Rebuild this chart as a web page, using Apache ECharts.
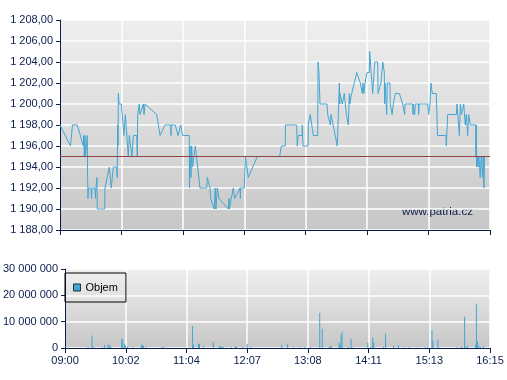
<!DOCTYPE html>
<html><head><meta charset="utf-8">
<script src="https://cdn.jsdelivr.net/npm/echarts@6/dist/echarts.min.js"></script>
<style>html,body{margin:0;padding:0;background:#fff}#c{width:507px;height:380px}</style>
</head><body><div id="c"></div>
<script>
// Minutes after 09:00
const priceTimes = [0,10.6,12.6,17.5,23.6,24,24.6,25.3,25.8,27.3,27.6,27.9,28.3,28.8,31.4,31.9,32.4,35.4,35.9,36.4,37.4,37.7,40.5,45.2,45.5,47.5,49.9,51.9,53.9,57.3,57.9,58.3,58.7,59,59.7,62,64.7,66.1,69.1,70.1,71.8,72.8,74.2,77.6,78.2,78.6,80.2,80.9,84.3,85,86,97.8,101.2,106.2,112,112.3,112.6,116.6,119.4,122.1,124.1,130.8,131,131.5,132.5,133.2,134,136.9,141.6,148.4,149,151.7,152.4,156,157.1,157.8,159.1,160.8,170.3,171,171.3,175.3,176.7,182.1,182.4,182.8,186.4,187.5,190.5,199.6,222.2,223.9,227.9,228.1,239.4,240,241,244.8,245.1,245.8,250.9,251.2,253.2,256.2,260.7,261,262,263,270.1,270.8,272.1,273.5,274.2,280.5,281.6,282.6,283,283.3,285,285.6,287.6,289.7,291.1,291.7,292.7,293.1,295.1,300.2,303.8,305.8,306.5,307.5,308.5,309.9,310.6,312.9,313.3,314.9,316.3,318.4,321.4,321.7,323.7,324.7,326.5,328.1,328.3,328.8,330.5,331.1,333.8,334.1,335.9,337.2,339.2,343.3,346.7,348.4,348.7,349,356.8,357.1,357.4,358.4,358.8,359.4,362.5,362.8,363.4,371.9,373,374.3,375.3,376.6,380.7,381.9,390.5,390.8,392.2,401,401.6,404,405,406,407.7,408.4,410,411,412.4,413.4,415.1,420.5,420.8,421.2,421.5,422.1,422.8,423.8,425.1,426.1,427.5,428.2,428.9,429.4,435];
const priceValues = [1198,1196,1198,1198,1196,1197,1195,1197,1195,1195,1197,1193,1191,1192,1192,1191,1192,1192,1191,1192,1193,1190,1190,1190,1192,1192,1194,1192,1194,1194,1193,1198,1196,1201,1200,1200,1197,1199,1195,1197,1197,1195,1197,1197,1195,1199,1200,1199,1200,1199,1200,1199,1197,1198,1198,1197,1198,1198,1197,1198,1197,1197,1192,1196,1193,1196,1194,1196,1192,1192,1193,1192,1191,1190,1192,1190,1192,1191,1190,1191,1190,1192,1191,1192,1191,1192,1192,1195,1193,1195,1195,1196,1196,1198,1198,1196,1197,1197,1198,1196,1196,1198,1199,1197,1197,1204,1203,1200,1200,1199,1199,1198,1199,1196,1199,1202,1200,1201,1201,1200,1201,1199,1199,1198,1201,1200,1201,1203,1202,1201,1202,1201,1202,1202,1203,1203,1205,1205,1201,1204,1204,1201,1201,1202,1204,1203,1200,1202,1199,1202,1202,1200,1199,1200,1201,1201,1200,1200,1199,1200,1200,1199,1200,1200,1199,1200,1200,1199,1200,1200,1199,1200,1202,1201,1201,1197,1197,1196,1199,1199,1200,1197,1200,1199,1199,1200,1198,1199,1197,1199,1198,1198,1195,1198,1194,1195,1194,1195,1193,1195,1193,1195,1192,1195,1195];
const previousClose = 1195;
const volumeTimes = [23.6,27.6,28.6,38.1,40.5,43.8,44.8,45.8,46.8,58.0,59.0,60.7,61.7,64.0,69.1,78.2,79.2,80.2,82.7,99.1,101.2,130.5,131.5,136.6,137.6,141.6,151.7,157.8,158.8,160.3,161.9,170.3,174.3,175.3,182.1,186.4,190.5,221.8,227.9,233.9,240.1,245.1,251.2,260.7,263.3,270.4,271.4,272.4,280.5,281.5,282.5,283.6,289.6,292.7,293.7,309.9,312.9,314.9,315.9,326.0,328.1,336.2,341.2,347.3,352.4,361.5,368.5,371.0,375.6,376.6,381.7,401.3,405.4,406.4,409.0,410.4,412.0,420.1,421.1,422.1,423.6,425.2,428.2];
const volumeValues = [400000,4700000,500000,400000,1200000,1200000,600000,1200000,500000,3500000,3200000,1500000,1000000,500000,300000,1000000,1300000,800000,500000,400000,400000,8400000,1200000,1600000,1600000,600000,2400000,500000,800000,500000,500000,300000,800000,400000,300000,1600000,400000,1200000,1500000,300000,300000,300000,300000,13400000,7300000,400000,400000,800000,2000000,1200000,5000000,6200000,400000,3500000,400000,2000000,400000,3900000,2200000,400000,5400000,800000,1000000,300000,300000,200000,300000,300000,6600000,2800000,3100000,300000,400000,400000,11900000,400000,800000,1000000,16800000,2700000,900000,400000,800000];
const xTickLabels = ['09:00','10:02','11:04','12:07','13:08','14:11','15:13','16:15'];
const sessionLength = 435;

const navy = '#0b1d4d';
const blue = '#44a6d2';
const xInterval = sessionLength / (xTickLabels.length - 1);
const bg = {type:'linear',x:0,y:0,x2:0,y2:1,colorStops:[{offset:0,color:'#efefef'},{offset:1,color:'#c7c7c7'}]};
function fmtNum(v, dec){
  const s = v.toFixed(dec);
  const parts = s.split('.');
  const int = parts[0].replace(/\B(?=(\d{3})+(?!\d))/g,' ');
  return dec ? int + ',' + parts[1] : int;
}
const xAxisCommon = {
  type:'value', min:0, max:sessionLength, interval:xInterval,
  axisLine:{show:true, lineStyle:{color:navy, width:1}},
  axisTick:{show:true, length:5, lineStyle:{color:navy}},
  splitLine:{show:true, lineStyle:{color:'#ffffff', width:1.5}}
};
const chart = echarts.init(document.getElementById('c'), null, {renderer:'canvas'});
chart.setOption({
  animation:false,
  backgroundColor:'#ffffff',
  textStyle:{fontFamily:'Liberation Sans, Arial, sans-serif'},
  grid:[
    {left:60, right:17, top:20, height:210, show:true, backgroundColor:bg, borderWidth:0},
    {left:60, right:17, top:269, height:79, show:true, backgroundColor:bg, borderWidth:0}
  ],
  xAxis:[
    Object.assign({gridIndex:0, axisLabel:{show:false}}, xAxisCommon),
    Object.assign({gridIndex:1, axisLabel:{show:true, color:navy, fontSize:11, margin:7, showMinLabel:true, showMaxLabel:true,
      formatter:function(v){ return xTickLabels[Math.round(v/xInterval)] || ''; }}}, xAxisCommon)
  ],
  yAxis:[
    {type:'value', gridIndex:0, min:1188, max:1208, interval:2,
      axisLine:{show:true, lineStyle:{color:navy}}, axisTick:{show:true, length:4, lineStyle:{color:navy}},
      axisLabel:{color:navy, fontSize:11, margin:7, formatter:function(v){return fmtNum(v,2);}},
      splitLine:{show:true, lineStyle:{color:'#ffffff', width:1.5}}},
    {type:'value', gridIndex:1, min:0, max:30000000, interval:10000000,
      axisLine:{show:true, lineStyle:{color:navy}}, axisTick:{show:true, length:4, lineStyle:{color:navy}},
      axisLabel:{color:navy, fontSize:11, margin:7, formatter:function(v){return fmtNum(v,0);}},
      splitLine:{show:true, lineStyle:{color:'#ffffff', width:1.5}}}
  ],
  legend:{
    data:[{name:'Objem', icon:'rect'}],
    left:65, top:273, orient:'vertical',
    padding:[9,8,9,8], itemWidth:7, itemHeight:7, itemGap:4,
    borderColor:'#000', borderWidth:1, borderRadius:0, backgroundColor:'transparent',
    textStyle:{color:'#000', fontSize:11, padding:[0,0,0,0]},
    itemStyle:{borderColor:'#12304f', borderWidth:1}
  },
  graphic:[
    {type:'text', left:402, top:206, style:{text:'www.patria.cz', fill:navy, font:'11.5px "Liberation Sans", Arial, sans-serif'}}
  ],
  series:[
    {name:'Cena', type:'line', xAxisIndex:0, yAxisIndex:0, showSymbol:false, symbol:'none',
      data: priceTimes.map((t,i)=>[t, priceValues[i]]),
      lineStyle:{color:blue, width:1}, z:3},
    {name:'Předchozí', type:'line', xAxisIndex:0, yAxisIndex:0, showSymbol:false, symbol:'none',
      data:[[0,previousClose],[sessionLength,previousClose]],
      lineStyle:{color:'#8e4444', width:1}, z:4},
    {name:'Objem', type:'bar', xAxisIndex:1, yAxisIndex:1, barWidth:1,
      data: volumeTimes.map((t,i)=>[t, volumeValues[i]]),
      itemStyle:{color:blue}}
  ]
});
</script>
</body></html>
